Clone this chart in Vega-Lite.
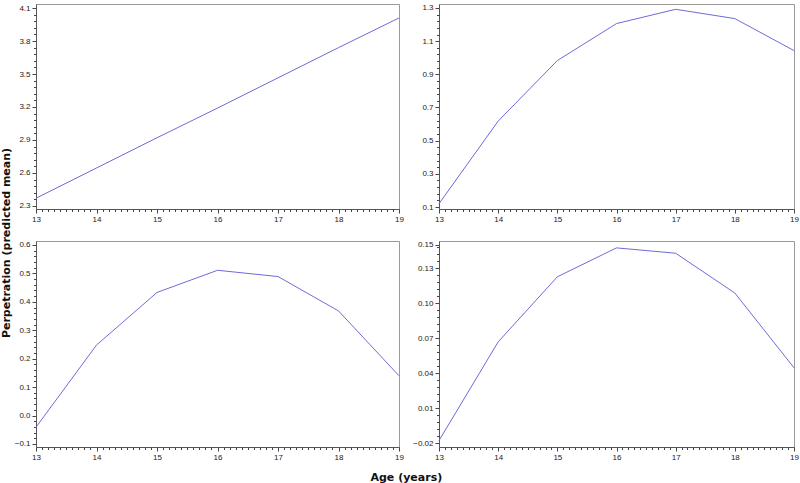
{
  "$schema": "https://vega.github.io/schema/vega-lite/v6.json",
  "background": "white",
  "padding": {"left": 0, "top": 3, "right": 4, "bottom": 2},
  "data": {"values": [
    {"panel": 1, "age": 13, "value": 2.37},
    {"panel": 1, "age": 14, "value": 2.645},
    {"panel": 1, "age": 15, "value": 2.92},
    {"panel": 1, "age": 16, "value": 3.19},
    {"panel": 1, "age": 17, "value": 3.465},
    {"panel": 1, "age": 18, "value": 3.74},
    {"panel": 1, "age": 19, "value": 4.01},
    {"panel": 2, "age": 13, "value": 0.12},
    {"panel": 2, "age": 14, "value": 0.618},
    {"panel": 2, "age": 15, "value": 0.983},
    {"panel": 2, "age": 16, "value": 1.206},
    {"panel": 2, "age": 17, "value": 1.292},
    {"panel": 2, "age": 18, "value": 1.236},
    {"panel": 2, "age": 19, "value": 1.043},
    {"panel": 3, "age": 13, "value": -0.041},
    {"panel": 3, "age": 14, "value": 0.248},
    {"panel": 3, "age": 15, "value": 0.433},
    {"panel": 3, "age": 16, "value": 0.511},
    {"panel": 3, "age": 17, "value": 0.489},
    {"panel": 3, "age": 18, "value": 0.368},
    {"panel": 3, "age": 19, "value": 0.14},
    {"panel": 4, "age": 13, "value": -0.0177},
    {"panel": 4, "age": 14, "value": 0.0669},
    {"panel": 4, "age": 15, "value": 0.1227},
    {"panel": 4, "age": 16, "value": 0.1475},
    {"panel": 4, "age": 17, "value": 0.1429},
    {"panel": 4, "age": 18, "value": 0.1088},
    {"panel": 4, "age": 19, "value": 0.0447}
  ]},
  "title": {"text": "Perpetration (predicted mean)", "orient": "left", "anchor": "middle", "font": "DejaVu Sans", "fontSize": 11, "fontWeight": "bold", "color": "#111", "offset": 2},
  "spacing": 16,
  "vconcat": [
    {
      "spacing": 40,
      "bounds": "flush",
      "hconcat": [
        {
          "width": 363, "height": 205,
          "transform": [{"filter": "datum.panel == 1"}],
          "layer": [
            {"mark": {"type": "line", "color": "#6c6cd8", "strokeWidth": 1},
             "encoding": {
               "x": {"field": "age", "type": "quantitative", "scale": {"domain": [13, 19], "nice": false, "zero": false}, "axis": {"values": [13, 14, 15, 16, 17, 18, 19], "format": "d", "title": null, "orient": "bottom"}},
               "y": {"field": "value", "type": "quantitative", "scale": {"domain": [2.272, 4.137], "nice": false, "zero": false}, "axis": {"values": [2.3, 2.6, 2.9, 3.2, 3.5, 3.8, 4.1], "format": ".1f", "title": null, "orient": "left"}}
             }},
            {"mark": {"type": "line", "opacity": 0},
             "encoding": {
               "x": {"field": "age", "type": "quantitative", "axis": {"values": [13.1,13.2,13.3,13.4,13.5,13.6,13.7,13.8,13.9,14.1,14.2,14.3,14.4,14.5,14.6,14.7,14.8,14.9,15.1,15.2,15.3,15.4,15.5,15.6,15.7,15.8,15.9,16.1,16.2,16.3,16.4,16.5,16.6,16.7,16.8,16.9,17.1,17.2,17.3,17.4,17.5,17.6,17.7,17.8,17.9,18.1,18.2,18.3,18.4,18.5,18.6,18.7,18.8,18.9], "labels": false, "domain": false, "tickSize": 2.5, "title": null, "orient": "bottom"}},
               "y": {"field": "value", "type": "quantitative", "axis": {"values": [2.36,2.42,2.48,2.54,2.66,2.72,2.78,2.84,2.96,3.02,3.08,3.14,3.26,3.32,3.38,3.44,3.56,3.62,3.68,3.74,3.86,3.92,3.98,4.04], "labels": false, "domain": false, "tickSize": 2.5, "title": null, "orient": "left"}}
             }}
          ],
          "resolve": {"axis": {"x": "independent", "y": "independent"}}
        },
        {
          "width": 355, "height": 205,
          "transform": [{"filter": "datum.panel == 2"}],
          "layer": [
            {"mark": {"type": "line", "color": "#6c6cd8", "strokeWidth": 1},
             "encoding": {
               "x": {"field": "age", "type": "quantitative", "scale": {"domain": [13, 19], "nice": false, "zero": false}, "axis": {"values": [13, 14, 15, 16, 17, 18, 19], "format": "d", "title": null, "orient": "bottom"}},
               "y": {"field": "value", "type": "quantitative", "scale": {"domain": [0.088, 1.324], "nice": false, "zero": false}, "axis": {"values": [0.1, 0.3, 0.5, 0.7, 0.9, 1.1, 1.3], "format": ".1f", "title": null, "orient": "left"}}
             }},
            {"mark": {"type": "line", "opacity": 0},
             "encoding": {
               "x": {"field": "age", "type": "quantitative", "axis": {"values": [13.1,13.2,13.3,13.4,13.5,13.6,13.7,13.8,13.9,14.1,14.2,14.3,14.4,14.5,14.6,14.7,14.8,14.9,15.1,15.2,15.3,15.4,15.5,15.6,15.7,15.8,15.9,16.1,16.2,16.3,16.4,16.5,16.6,16.7,16.8,16.9,17.1,17.2,17.3,17.4,17.5,17.6,17.7,17.8,17.9,18.1,18.2,18.3,18.4,18.5,18.6,18.7,18.8,18.9], "labels": false, "domain": false, "tickSize": 2.5, "title": null, "orient": "bottom"}},
               "y": {"field": "value", "type": "quantitative", "axis": {"values": [0.14,0.18,0.22,0.26,0.34,0.38,0.42,0.46,0.54,0.58,0.62,0.66,0.74,0.78,0.82,0.86,0.94,0.98,1.02,1.06,1.14,1.18,1.22,1.26], "labels": false, "domain": false, "tickSize": 2.5, "title": null, "orient": "left"}}
             }}
          ],
          "resolve": {"axis": {"x": "independent", "y": "independent"}}
        }
      ]
    },
    {
      "spacing": 40,
      "bounds": "flush",
      "title": {"text": "Age (years)", "orient": "bottom", "anchor": "middle", "font": "DejaVu Sans", "fontSize": 11, "fontWeight": "bold", "color": "#111", "offset": 10},
      "hconcat": [
        {
          "width": 363, "height": 206,
          "transform": [{"filter": "datum.panel == 3"}],
          "layer": [
            {"mark": {"type": "line", "color": "#6c6cd8", "strokeWidth": 1},
             "encoding": {
               "x": {"field": "age", "type": "quantitative", "scale": {"domain": [13, 19], "nice": false, "zero": false}, "axis": {"values": [13, 14, 15, 16, 17, 18, 19], "format": "d", "title": null, "orient": "bottom"}},
               "y": {"field": "value", "type": "quantitative", "scale": {"domain": [-0.1106, 0.614], "nice": false, "zero": false}, "axis": {"values": [-0.1, 0.0, 0.1, 0.2, 0.3, 0.4, 0.5, 0.6], "format": ".1f", "title": null, "orient": "left"}}
             }},
            {"mark": {"type": "line", "opacity": 0},
             "encoding": {
               "x": {"field": "age", "type": "quantitative", "axis": {"values": [13.1,13.2,13.3,13.4,13.5,13.6,13.7,13.8,13.9,14.1,14.2,14.3,14.4,14.5,14.6,14.7,14.8,14.9,15.1,15.2,15.3,15.4,15.5,15.6,15.7,15.8,15.9,16.1,16.2,16.3,16.4,16.5,16.6,16.7,16.8,16.9,17.1,17.2,17.3,17.4,17.5,17.6,17.7,17.8,17.9,18.1,18.2,18.3,18.4,18.5,18.6,18.7,18.8,18.9], "labels": false, "domain": false, "tickSize": 2.5, "title": null, "orient": "bottom"}},
               "y": {"field": "value", "type": "quantitative", "axis": {"values": [-0.08,-0.06,-0.04,-0.02,0.02,0.04,0.06,0.08,0.12,0.14,0.16,0.18,0.22,0.24,0.26,0.28,0.32,0.34,0.36,0.38,0.42,0.44,0.46,0.48,0.52,0.54,0.56,0.58], "labels": false, "domain": false, "tickSize": 2.5, "title": null, "orient": "left"}}
             }}
          ],
          "resolve": {"axis": {"x": "independent", "y": "independent"}}
        },
        {
          "width": 355, "height": 206,
          "transform": [{"filter": "datum.panel == 4"}],
          "layer": [
            {"mark": {"type": "line", "color": "#6c6cd8", "strokeWidth": 1},
             "encoding": {
               "x": {"field": "age", "type": "quantitative", "scale": {"domain": [13, 19], "nice": false, "zero": false}, "axis": {"values": [13, 14, 15, 16, 17, 18, 19], "format": "d", "title": null, "orient": "bottom"}},
               "y": {"field": "value", "type": "quantitative", "scale": {"domain": [-0.0232, 0.1534], "nice": false, "zero": false}, "axis": {"values": [-0.02, 0.01, 0.04, 0.07, 0.10, 0.13, 0.15], "format": ".2f", "title": null, "orient": "left"}}
             }},
            {"mark": {"type": "line", "opacity": 0},
             "encoding": {
               "x": {"field": "age", "type": "quantitative", "axis": {"values": [13.1,13.2,13.3,13.4,13.5,13.6,13.7,13.8,13.9,14.1,14.2,14.3,14.4,14.5,14.6,14.7,14.8,14.9,15.1,15.2,15.3,15.4,15.5,15.6,15.7,15.8,15.9,16.1,16.2,16.3,16.4,16.5,16.6,16.7,16.8,16.9,17.1,17.2,17.3,17.4,17.5,17.6,17.7,17.8,17.9,18.1,18.2,18.3,18.4,18.5,18.6,18.7,18.8,18.9], "labels": false, "domain": false, "tickSize": 2.5, "title": null, "orient": "bottom"}},
               "y": {"field": "value", "type": "quantitative", "axis": {"values": [-0.014,-0.008,-0.002,0.004,0.016,0.022,0.028,0.034,0.046,0.052,0.058,0.064,0.076,0.082,0.088,0.094,0.106,0.112,0.118,0.124,0.136,0.142,0.148], "labels": false, "domain": false, "tickSize": 2.5, "title": null, "orient": "left"}}
             }}
          ],
          "resolve": {"axis": {"x": "independent", "y": "independent"}}
        }
      ]
    }
  ],
  "config": {
    "font": "Liberation Sans",
    "view": {"stroke": "#9a9a9a", "strokeWidth": 1},
    "axis": {"grid": false, "labelFontSize": 8, "labelColor": "#222", "labelFont": "Liberation Sans", "tickColor": "#444", "domainColor": "#555", "tickSize": 4, "labelPadding": 2, "labelFlush": false, "labelOverlap": false}
  }
}
